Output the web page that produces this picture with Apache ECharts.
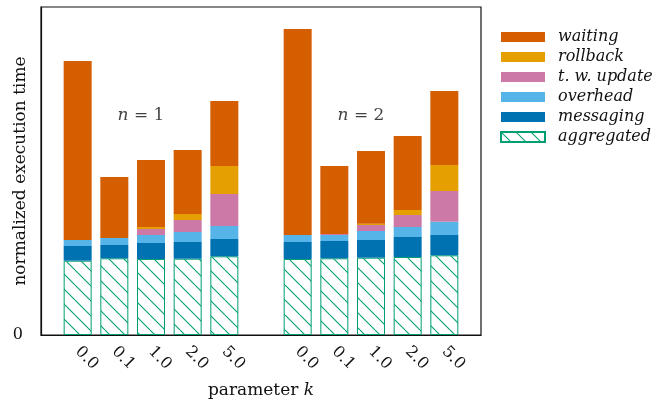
<!DOCTYPE html>
<html>
<head>
<meta charset="utf-8">
<script src="https://cdn.jsdelivr.net/npm/echarts@6/dist/echarts.min.js"></script>
<style>html,body{margin:0;padding:0;background:#fff;}#c{width:671px;height:399px;}</style>
</head>
<body>
<div id="c"></div>
<script>
// categories (blank slots separate the two groups)
const categories = ['', '0.0', '0.1', '1.0', '2.0', '5.0', '', '0.0', '0.1', '1.0', '2.0', '5.0', ''];
const aggregated = [null, 0.743, 0.767, 0.760, 0.763, 0.787, null, 0.760, 0.767, 0.773, 0.780, 0.797, null];
const messaging  = [null, 0.147, 0.133, 0.160, 0.167, 0.173, null, 0.170, 0.173, 0.177, 0.200, 0.203, null];
const overhead   = [null, 0.060, 0.070, 0.080, 0.100, 0.130, null, 0.070, 0.060, 0.090, 0.100, 0.133, null];
const twUpdate   = [null, 0.000, 0.000, 0.060, 0.120, 0.320, null, 0.000, 0.010, 0.060, 0.120, 0.307, null];
const rollback   = [null, 0.000, 0.000, 0.020, 0.060, 0.280, null, 0.000, 0.000, 0.013, 0.050, 0.260, null];
const waiting    = [null, 1.790, 0.610, 0.670, 0.640, 0.650, null, 2.060, 0.680, 0.727, 0.740, 0.740, null];
const yMax = 3.28;
const annotations = [
  {cat: 3, y: 2.19, text: '{i|n} = 1'},
  {cat: 9, y: 2.19, text: '{i|n} = 2'}
];

const SERIF = '"DejaVu Serif", serif';

// hatch pattern
const pc = document.createElement('canvas');
pc.width = 15; pc.height = 15;
const px = pc.getContext('2d');
px.strokeStyle = '#009E73';
px.lineWidth = 1.1;
for (const k of [-15, 0, 15]) {
  px.beginPath(); px.moveTo(k, 0); px.lineTo(k + 15, 15); px.stroke();
}

const chart = echarts.init(document.getElementById('c'), null, {renderer: 'canvas'});

function bar(name, data, color, extra) {
  return Object.assign({
    name, type: 'bar', stack: 'a', data, barWidth: 28,
    itemStyle: {color}, emphasis: {disabled: true}
  }, extra || {});
}

chart.setOption({
  animation: false,
  backgroundColor: '#fff',
  grid: {left: 41, right: 190, top: 7, bottom: 64, containLabel: false, outerBoundsMode: 'none',
    show: true, borderColor: '#111', borderWidth: 1.2, backgroundColor: 'transparent'},
  legend: {
    orient: 'vertical', left: 500, top: 27, padding: 0, itemGap: 0,
    itemWidth: 44, itemHeight: 10, icon: 'rect',
    data: ['waiting', 'rollback', 't. w. update', 'overhead', 'messaging', 'aggregated'],
    textStyle: {fontFamily: SERIF, fontStyle: 'italic', fontSize: 16, color: '#111', lineHeight: 20, padding: [0, 0, 0, 8]}
  },
  xAxis: {
    type: 'category', data: categories, boundaryGap: false,
    axisLine: {show: true, lineStyle: {color: '#111', width: 1.2}},
    axisTick: {show: false},
    axisLabel: {interval: 0, rotate: -45, margin: 14, fontFamily: SERIF, fontSize: 16, color: '#111'},
    name: 'parameter {i|k}', nameLocation: 'middle', nameGap: 47, nameMoveOverlap: false,
    nameTextStyle: {fontFamily: SERIF, fontSize: 17, color: '#111',
      rich: {i: {fontFamily: SERIF, fontStyle: 'italic', fontSize: 17, color: '#111'}}}
  },
  yAxis: {
    type: 'value', min: 0, max: yMax, interval: yMax,
    splitLine: {show: false}, axisTick: {show: false},
    axisLine: {show: true, lineStyle: {color: '#111', width: 1.2}},
    axisLabel: {margin: 18, fontFamily: SERIF, fontSize: 16, color: '#111', formatter: v => v === 0 ? '0' : ''},
    name: 'normalized execution time', nameLocation: 'middle', nameGap: 12, nameMoveOverlap: false,
    nameTextStyle: {fontFamily: SERIF, fontSize: 17, color: '#111'}
  },
  series: [
    bar('aggregated', aggregated, {image: pc, repeat: 'repeat'}, {itemStyle: {color: {image: pc, repeat: 'repeat'}, borderColor: '#009E73', borderWidth: 1}}),
    bar('messaging', messaging, '#0072B2'),
    bar('overhead', overhead, '#56B4E9'),
    bar('t. w. update', twUpdate, '#CC79A7'),
    bar('rollback', rollback, '#E69F00'),
    bar('waiting', waiting, '#D55E00'),
    {
      type: 'scatter', symbolSize: 0, silent: true,
      data: annotations.map(a => ({value: [a.cat, a.y], text: a.text})),
      label: {show: true, position: 'inside', offset: [-10, 0], formatter: p => p.data.text,
        fontFamily: SERIF, fontSize: 17, color: '#111',
        rich: {i: {fontFamily: SERIF, fontStyle: 'italic', fontSize: 17, color: '#111'}}}
    }
  ]
});
</script>
</body>
</html>
